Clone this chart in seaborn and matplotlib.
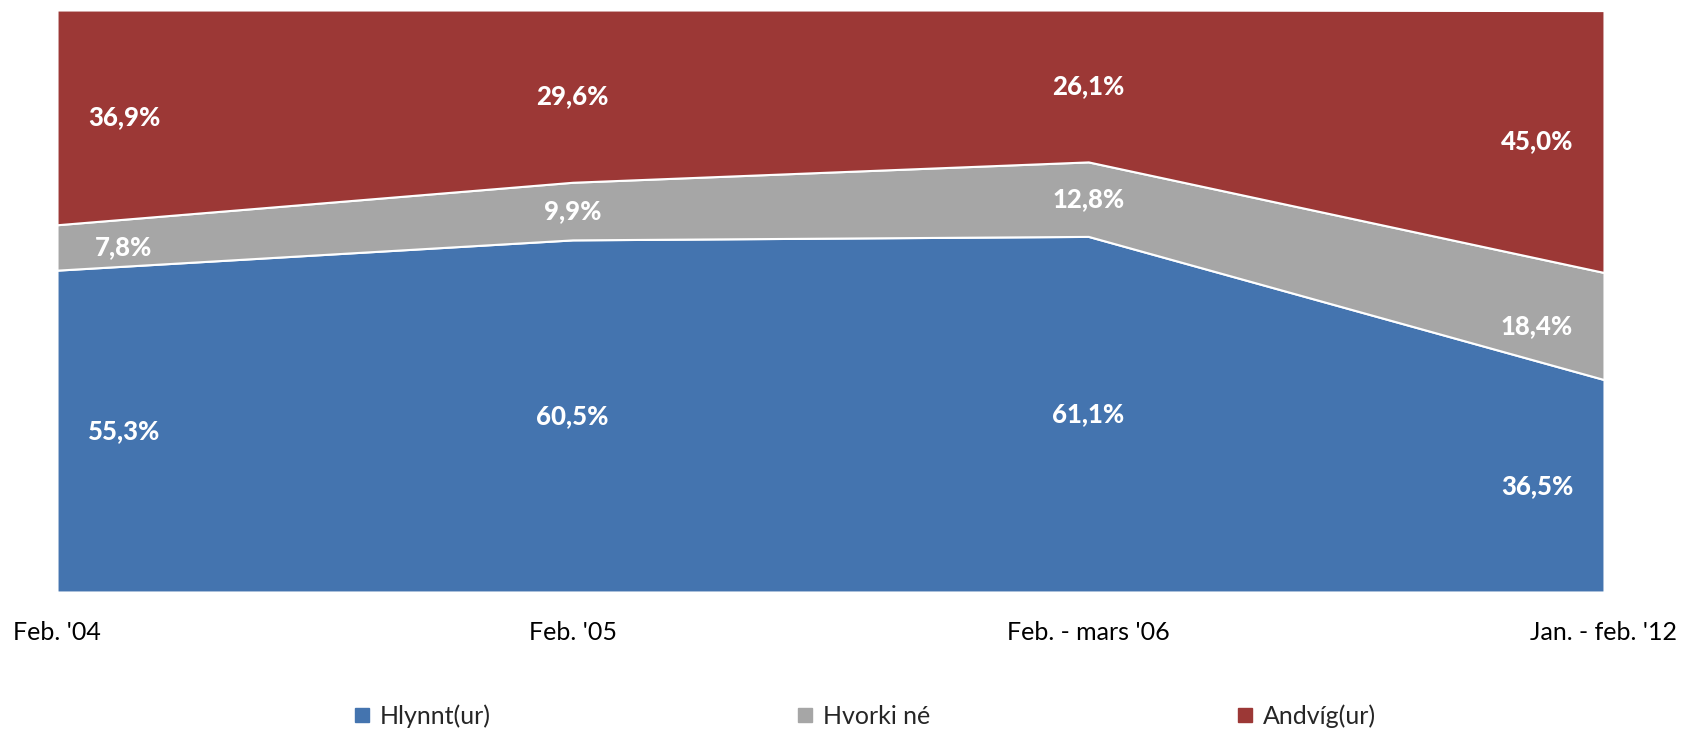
import numpy as np
import seaborn as sns
import matplotlib.pyplot as plt
from matplotlib.lines import Line2D

periods = ["Feb. '04", "Feb. '05", "Feb. - mars '06", "Jan. - feb. '12"]
series_names = ["Hlynnt(ur)", "Hvorki né", "Andvíg(ur)"]
hlynnt = [55.3, 60.5, 61.1, 36.5]
hvorki = [7.8, 9.9, 12.8, 18.4]
andvig = [36.9, 29.6, 26.1, 45.0]
colors = ["#4474AF", "#A6A6A6", "#9C3836"]

sns.set_theme(style="white")
plt.rcParams['font.family'] = ['Lato', 'DejaVu Sans']

fig = plt.figure(figsize=(16.84, 7.32), dpi=100)
ax = fig.add_axes([57 / 1684, 140 / 732, (1604 - 57) / 1684, 582 / 732])

x = np.arange(len(periods))
values = [hlynnt, hvorki, andvig]
ax.stackplot(x, values, colors=colors, edgecolor="white", linewidth=1.5)

ax.set_xlim(0, len(periods) - 1)
ax.set_ylim(0, 100)
ax.set_yticks([])
ax.set_xticks(x)
ax.set_xticklabels(periods, fontsize=18, color="black")
ax.tick_params(axis="x", length=0, pad=21)
for s in ax.spines.values():
    s.set_visible(False)

# gildi inni í svæðunum
label_x = [0.13, 1, 2, 2.87]
bottom = np.zeros(len(periods))
for vals in values:
    vals = np.array(vals)
    for i in range(len(periods)):
        y = bottom[i] + vals[i] / 2
        txt = f"{vals[i]:.1f}%".replace(".", ",")
        ax.text(label_x[i], y, txt, ha="center", va="center",
                color="white", fontsize=18.5, fontweight="black")
    bottom += vals

handles = [Line2D([], [], marker="s", linestyle="", markersize=10, color=c) for c in colors]
fig.legend(handles, series_names, loc="center", bbox_to_anchor=(0.513, 0.022),
           ncol=3, frameon=False, fontsize=18, handletextpad=0.3,
           columnspacing=12.2, handlelength=0.8)

fig.savefig("out.png", dpi=100)
